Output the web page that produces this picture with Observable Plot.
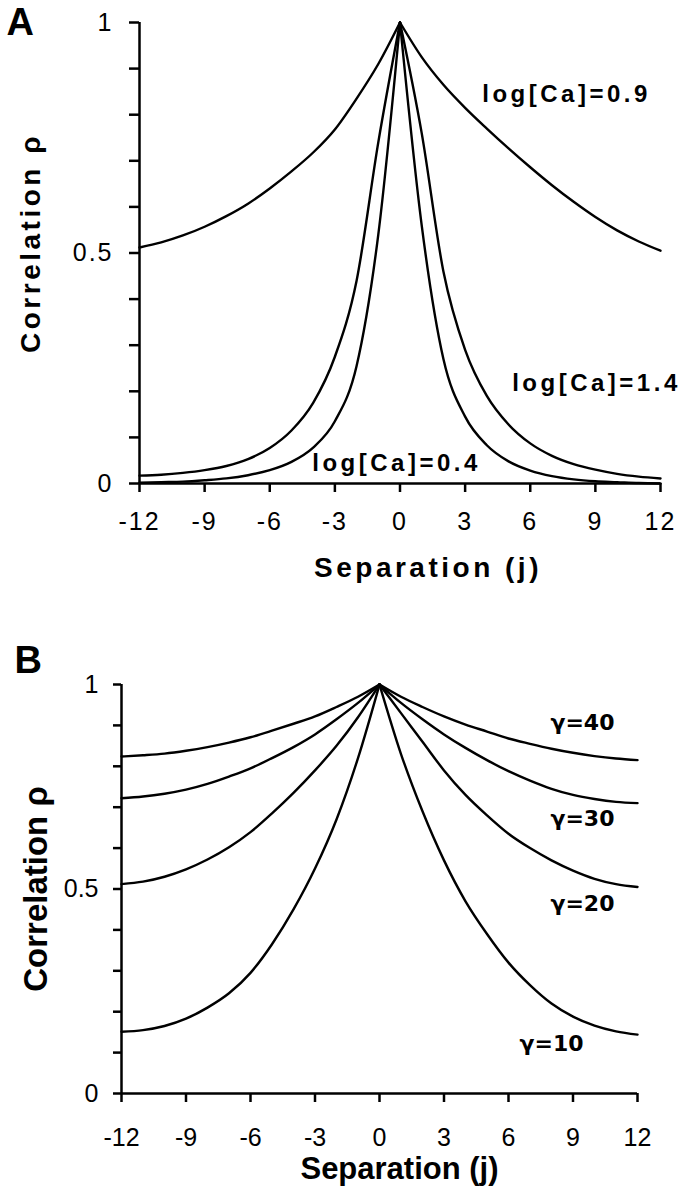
<!DOCTYPE html>
<html><head><meta charset="utf-8">
<script src="https://cdn.jsdelivr.net/npm/d3@7"></script>
<script src="https://cdn.jsdelivr.net/npm/@observablehq/plot@0.6"></script>
<style>body{margin:0;background:#fff;} svg{display:block;}</style>
</head><body><div id="a"></div><div id="b"></div>
<script>
// ---- data ----
const separation = [-12,-11,-10,-9,-8,-7,-6,-5,-4,-3,-2,-1,0,1,2,3,4,5,6,7,8,9,10,11,12];
const xTicks = [-12,-9,-6,-3,0,3,6,9,12];
const xTickLabels = ["-12","-9","-6","-3","0","3","6","9","12"];
const yTicks = [0,0.1,0.2,0.3,0.4,0.5,0.6,0.7,0.8,0.9,1];
const yTickLabels = ["0","","","","","0.5","","","","","1"];

// Panel A: correlation vs separation for three log[Ca]
const seriesA = ["log[Ca]=0.9","log[Ca]=1.4","log[Ca]=0.4"];
const rhoCa09 = [0.512,0.523,0.538,0.557,0.580,0.607,0.640,0.677,0.718,0.768,0.835,0.910,1,0.925,0.865,0.815,0.770,0.727,0.686,0.647,0.611,0.578,0.549,0.525,0.505];
const rhoCa14 = [0.017,0.019,0.023,0.029,0.038,0.053,0.077,0.115,0.175,0.275,0.440,0.740,1,0.760,0.460,0.290,0.190,0.128,0.087,0.060,0.042,0.030,0.021,0.015,0.011];
const rhoCa04 = [0.002,0.003,0.004,0.007,0.011,0.018,0.029,0.047,0.078,0.135,0.255,0.540,1,0.560,0.270,0.145,0.083,0.048,0.028,0.016,0.009,0.005,0.003,0.001,0.000];
const labelAx = [7.67, 9.05, -0.16];
const labelAy = [0.844, 0.217, 0.043];

// Panel B: correlation vs separation for four gamma
const seriesB = ["γ=40","γ=30","γ=20","γ=10"];
const rhoG40 = [0.824,0.827,0.831,0.838,0.847,0.858,0.871,0.887,0.904,0.922,0.945,0.970,1,0.970,0.945,0.922,0.902,0.885,0.868,0.855,0.843,0.833,0.825,0.819,0.815];
const rhoG30 = [0.722,0.726,0.733,0.743,0.757,0.775,0.795,0.820,0.847,0.878,0.915,0.955,1,0.955,0.915,0.878,0.845,0.815,0.788,0.765,0.745,0.730,0.720,0.713,0.710];
const rhoG20 = [0.512,0.518,0.530,0.548,0.572,0.602,0.639,0.685,0.735,0.790,0.850,0.920,1,0.930,0.860,0.790,0.730,0.680,0.635,0.600,0.570,0.545,0.525,0.512,0.505];
const rhoG10 = [0.151,0.155,0.165,0.183,0.210,0.245,0.295,0.365,0.450,0.550,0.670,0.820,1,0.830,0.690,0.570,0.470,0.390,0.320,0.265,0.220,0.188,0.166,0.152,0.144];
const labelBx = [9.44, 9.44, 9.44, 8.0];
const labelBy = [0.905, 0.671, 0.463, 0.122];

// ---- build tables ----
function halves(name, values) {
  const rows = [];
  separation.forEach((j, i) => {
    if (j <= 0) rows.push({j, rho: values[i], key: name + "L"});
    if (j >= 0) rows.push({j, rho: values[i], key: name + "R"});
  });
  return rows;
}
const dataA = [...halves(seriesA[0], rhoCa09), ...halves(seriesA[1], rhoCa14), ...halves(seriesA[2], rhoCa04)];
const dataB = [...halves(seriesB[0], rhoG40), ...halves(seriesB[1], rhoG30), ...halves(seriesB[2], rhoG20), ...halves(seriesB[3], rhoG10)];
const labelsA = seriesA.map((t, i) => ({t, x: labelAx[i], y: labelAy[i]}));
const labelsB = seriesB.map((t, i) => ({t, x: labelBx[i], y: labelBy[i]}));

const font = "'Liberation Sans', Arial, Helvetica, sans-serif";
const xFmt = d => xTickLabels[xTicks.indexOf(d)];
const yFmt = d => yTickLabels[yTicks.indexOf(d)];

function panel(o) {
  return Plot.plot({
    width: 685, height: o.height,
    marginLeft: o.ml, marginRight: o.mr, marginTop: o.mt, marginBottom: o.mb,
    style: {fontFamily: font, fontSize: "25px", letterSpacing: o.ls, background: "white", color: "black", overflow: "visible"},
    x: {domain: [-12, 12]},
    y: {domain: [0, 1]},
    marks: [
      Plot.axisX({ticks: xTicks, tickFormat: xFmt, tickSize: 9, tickPadding: o.xpad, fontSize: 25, label: null, strokeWidth: 2.5}),
      Plot.axisY({ticks: yTicks, tickFormat: yFmt, tickSize: o.ytick, tickPadding: o.ypad, fontSize: 25, label: null, strokeWidth: 2.5}),
      Plot.ruleX([-12], {y1: 0, y2: 1, strokeWidth: 2.5}),
      Plot.ruleY([0], {x1: -12, x2: 12, strokeWidth: 2.5}),
      Plot.line(o.data, {x: "j", y: "rho", z: "key", curve: "monotone-x", stroke: "black", strokeWidth: 2.4}),
      Plot.text(o.labels, {x: "x", y: "y", text: "t", fontSize: o.labelSize, fontWeight: "bold", fontFamily: o.labelFont}),
      Plot.text(["Separation (j)"], {text: d => d, frameAnchor: "bottom", textAnchor: "middle", lineAnchor: "middle", dx: o.xtitleDx, dy: o.xtitleDy, fontSize: o.xtitleSize, fontWeight: "bold"}),
      Plot.text(["Correlation ρ"], {text: d => d, frameAnchor: "left", textAnchor: "middle", lineAnchor: "middle", dx: o.ytitleDx, dy: o.ytitleDy, rotate: -90, fontSize: o.ytitleSize, fontWeight: "bold"}),
      Plot.text([o.letter], {text: d => d, frameAnchor: "top-left", dx: o.letterDx, dy: o.letterDy, textAnchor: "start", lineAnchor: "top", fontSize: 38, fontWeight: "bold"})
    ]
  });
}

const a = panel({
  height: 600, ml: 139, mr: 25, mt: 22, mb: 117, ls: "2px", xpad: 20, ytick: 10, ypad: 16,
  data: dataA, labels: labelsA, labelSize: 24, labelFont: font,
  xtitleDx: 28, xtitleDy: 85, xtitleSize: 28, ytitleDx: -108, ytitleDy: -10, ytitleSize: 28,
  letter: "A", letterDx: -133, letterDy: -14
});
const b = panel({
  height: 599, ml: 121, mr: 48, mt: 84, mb: 106, ls: "0px", xpad: 26, ytick: 8, ypad: 15,
  data: dataB, labels: labelsB, labelSize: 22, labelFont: "'DejaVu Sans', sans-serif",
  xtitleDx: 20, xtitleDy: 76, xtitleSize: 31, ytitleDx: -85, ytitleDy: 0, ytitleSize: 33,
  letter: "B", letterDx: -107, letterDy: -38
});
// wide-set type of the panel A titles and labels, as in the original
a.querySelectorAll("text").forEach(t => { if (/Separation|Correlation|log\[Ca\]/.test(t.textContent)) t.style.letterSpacing = "3.5px"; });
document.getElementById("a").append(a);
document.getElementById("b").append(b);
</script>
</body></html>
